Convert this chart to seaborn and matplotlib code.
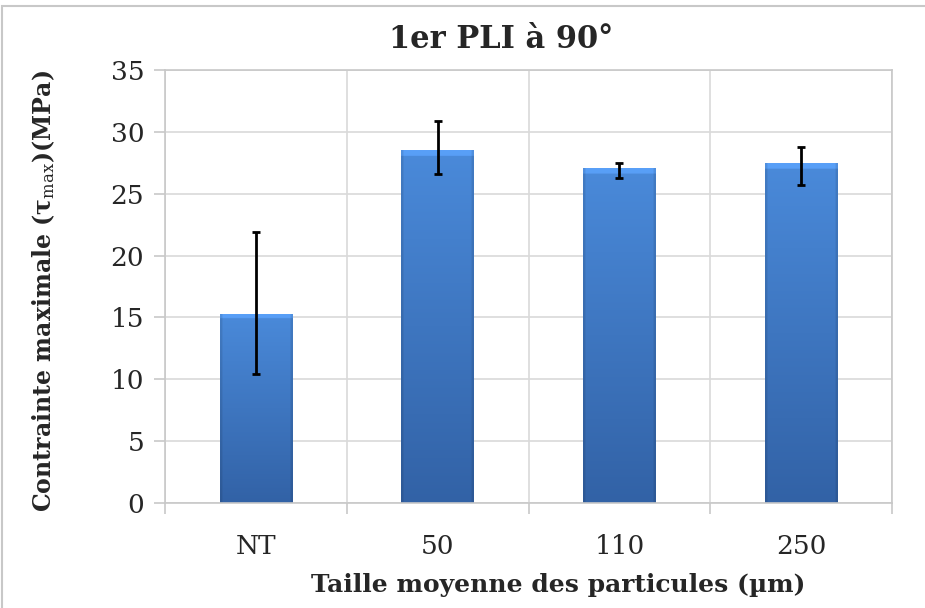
import numpy as np
import pandas as pd
import matplotlib
matplotlib.use("Agg")
import matplotlib.pyplot as plt
import matplotlib.patches as mpatches
import seaborn as sns

# ---- data ----
categories = ["NT", "50", "110", "250"]
values = [15.3, 28.5, 27.05, 27.45]
err_low = [10.4, 26.6, 26.3, 25.7]
err_high = [21.9, 30.9, 27.5, 28.8]
yticks = [0, 5, 10, 15, 20, 25, 30, 35]

title = "1er PLI à 90°"
xlabel = "Taille moyenne des particules (µm)"
ylabel = "Contrainte maximale (τ$_{\\mathrm{max}}$)(MPa)"

sns.set_theme(style="white")
plt.rcParams["font.family"] = ["DejaVu Serif"]
plt.rcParams["mathtext.fontset"] = "dejavuserif"

W, H = 925, 608
fig = plt.figure(figsize=(W / 100, H / 100), dpi=100)
ax = fig.add_axes([165 / W, 1 - 503 / H, (892 - 165) / W, (503 - 70) / H])

df = pd.DataFrame({"cat": categories, "val": values})
sns.barplot(data=df, x="cat", y="val", ax=ax, color="#3F78C0", width=0.4,
            errorbar=None, zorder=2, linewidth=0)

ax.set_xlim(-0.5, 3.5)
ax.set_ylim(0, 35)

# gradient fill clipped to each bar
top_c = np.array([74, 138, 218]) / 255
bot_c = np.array([50, 98, 166]) / 255
for p in ax.patches:
    x0, y0 = p.get_x(), p.get_y()
    w, h = p.get_width(), p.get_height()
    ny, nx = 300, 60
    t = np.linspace(0, 1, ny)[:, None]  # 0 top -> 1 bottom
    img = top_c[None, None, :] * (1 - t[..., None]) + bot_c[None, None, :] * t[..., None]
    img = np.repeat(img, nx, axis=1)
    # top bevel (approx 5 px)
    px_per_unit = 433 / 35
    bevel = 5 / px_per_unit / h
    rows = (np.linspace(0, 1, ny) < bevel)
    img[rows, :, :] = np.clip(img[rows, :, :] * 1.10 + 0.03, 0, 1)
    # side shading
    xs = np.linspace(0, 1, nx)
    side = np.where((xs < 0.03) | (xs > 0.97), 0.9, 1.0)
    img = img * side[None, :, None]
    im = ax.imshow(img, extent=[x0, x0 + w, y0, y0 + h], aspect="auto",
                   zorder=2.5, interpolation="bilinear")
    im.set_clip_path(p)

# error bars
xpos = np.arange(len(categories))
vals = np.array(values)
yerr = np.vstack([vals - np.array(err_low), np.array(err_high) - vals])
ax.errorbar(xpos, vals, yerr=yerr, fmt="none", ecolor="black", elinewidth=2,
            capsize=3, capthick=2, zorder=4)

# grid & frame
grid_c = "#D9D9D9"
ax.set_yticks(yticks)
ax.yaxis.grid(True, color=grid_c, linewidth=1.2, zorder=0)
ax.set_xticks([-0.5, 0.5, 1.5, 2.5, 3.5], minor=True)
ax.xaxis.grid(True, which="minor", color=grid_c, linewidth=1.2, zorder=0)
ax.xaxis.grid(False, which="major")
ax.set_axisbelow(True)
for s in ax.spines.values():
    s.set_visible(True)
    s.set_color("#C8C8C8")
    s.set_linewidth(1.2)

ax.tick_params(axis="x", which="minor", length=8, color="#C8C8C8", width=1.2,
               direction="out", bottom=True)
ax.tick_params(axis="x", which="major", length=0, pad=22, labelsize=19)
ax.tick_params(axis="y", which="major", length=8, color="#C8C8C8", width=1.2,
               direction="out", left=True, pad=7, labelsize=19)
ax.set_xticks(xpos)
ax.set_xticklabels(categories)

ax.set_xlabel(xlabel, fontsize=18, fontweight="bold")
ax.xaxis.set_label_coords((558 - 165) / 727, (503 - 573) / 433)
ax.set_ylabel(ylabel, fontsize=17, fontweight="bold")
ax.yaxis.set_label_coords((57 - 165) / 727, 0.49)

fig.text(501 / W, 1 - 40 / H, title, fontsize=22, fontweight="bold",
         ha="center", va="center")

# chart outer border
fig.patches.append(mpatches.Rectangle((2 / W, -0.1), 1.2, 1 - 6 / H + 0.1,
                                      transform=fig.transFigure, fill=False,
                                      edgecolor="#C8C8C8", linewidth=1.5))

fig.savefig("out.png", dpi=100)
